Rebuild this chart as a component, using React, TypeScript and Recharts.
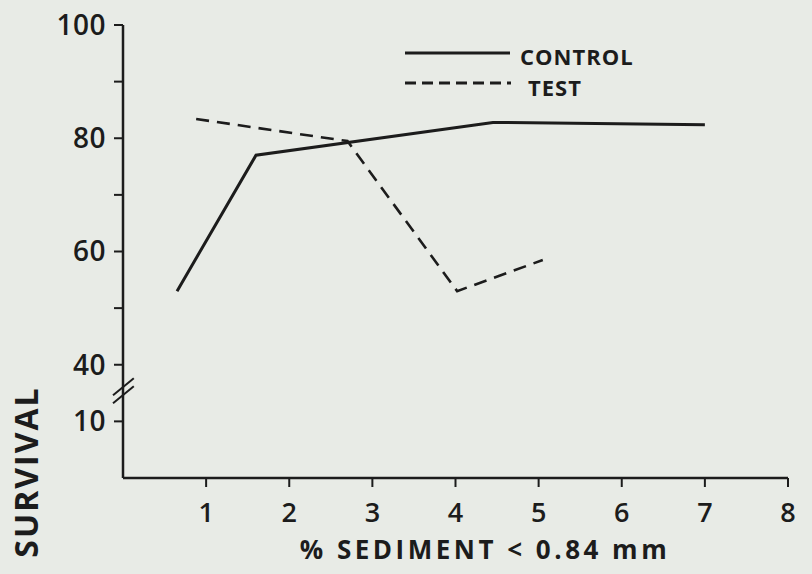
import { Line, LineChart, ReferenceLine, XAxis, YAxis } from "recharts";

// values
const controlX = [0.65, 1.6, 4.45, 7.0];
const controlY = [53, 77, 82.8, 82.4];
const testX = [0.88, 2.7, 4.02, 5.05];
const testY = [83.4, 79.5, 53, 58.5];

const xTicks = [1, 2, 3, 4, 5, 6, 7, 8];
// real survival values shown on the broken y axis
const yTicks = [10, 40, 50, 60, 70, 80, 90, 100];
const yLabelled = [10, 40, 60, 80, 100];

const INK = "#1c1c1c";
const PAPER = "#e8ebe6";
const FONT = "'Open Sans', sans-serif";

// axis is broken between ~15 and 40: squeeze the gap out
const toAxis = (v: number) => (v >= 40 ? v - 20 : v);
const fromAxis = (t: number) => (t >= 20 ? t + 20 : t);

const controlData = controlX.map((x, i) => ({ x, y: controlY[i] }));
const testData = testX.map((x, i) => ({ x, y: testY[i] }));

export default function App() {
  return (
    <div
      style={{
        position: "fixed",
        left: 0,
        top: 0,
        width: 812,
        height: 574,
        background: PAPER,
      }}
    >
      <LineChart
        width={812}
        height={574}
        margin={{ top: 25, right: 24, bottom: 56, left: 63 }}
      >
        <XAxis
          type="number"
          dataKey="x"
          domain={[0, 8]}
          ticks={xTicks}
          allowDuplicatedCategory={false}
          axisLine={{ stroke: INK, strokeWidth: 2.5 }}
          tickLine={{ stroke: INK, strokeWidth: 2 }}
          tickSize={9}
          tickMargin={16}
          height={40}
          tick={{ fill: INK, fontFamily: FONT, fontSize: 27, fontWeight: 600 }}
        />
        <YAxis
          type="number"
          domain={[0, 80]}
          ticks={yTicks.map(toAxis)}
          tickFormatter={(t: number) => {
            const v = fromAxis(t);
            return yLabelled.includes(v) ? String(v) : "";
          }}
          axisLine={{ stroke: INK, strokeWidth: 2.5 }}
          tickLine={{ stroke: INK, strokeWidth: 2 }}
          tickSize={9}
          tickMargin={8}
          width={60}
          tick={{ fill: INK, fontFamily: FONT, fontSize: 28, fontWeight: 600, letterSpacing: 0.5 }}
        />
        <ReferenceLine
          segment={[{ x: -0.12, y: 13.2 }, { x: 0.13, y: 16.2 }]}
          stroke={INK}
          strokeWidth={2}
          ifOverflow="visible"
        />
        <ReferenceLine
          segment={[{ x: -0.12, y: 14.6 }, { x: 0.13, y: 17.6 }]}
          stroke={INK}
          strokeWidth={2}
          ifOverflow="visible"
        />
        <Line
          data={controlData}
          dataKey={(d: { y: number }) => toAxis(d.y)}
          name="CONTROL"
          type="linear"
          stroke={INK}
          strokeWidth={3}
          dot={false}
          isAnimationActive={false}
        />
        <Line
          data={testData}
          dataKey={(d: { y: number }) => toAxis(d.y)}
          name="TEST"
          type="linear"
          stroke={INK}
          strokeWidth={2.6}
          strokeDasharray="13 8"
          dot={false}
          isAnimationActive={false}
        />
      </LineChart>
      <svg
        width={812}
        height={574}
        style={{ position: "absolute", left: 0, top: 0, pointerEvents: "none" }}
      >
        {/* legend */}
        <line x1={405} y1={53} x2={510} y2={53} stroke={INK} strokeWidth={3} />
        <text x={520} y={65} fontFamily={FONT} fontWeight={700} fontSize={22} letterSpacing={1} fill={INK}>
          CONTROL
        </text>
        <line x1={405} y1={83} x2={511} y2={83} stroke={INK} strokeWidth={3} strokeDasharray="11 6" />
        <text x={528} y={96} fontFamily={FONT} fontWeight={700} fontSize={22} letterSpacing={1} fill={INK}>
          TEST
        </text>

        <text
          transform="translate(38,472) rotate(-90)"
          textAnchor="middle"
          fontFamily={FONT}
          fontWeight={700}
          fontSize={32}
          letterSpacing={2}
          fill={INK}
        >
          SURVIVAL
        </text>
        <text
          x={485}
          y={559}
          textAnchor="middle"
          fontFamily={FONT}
          fontWeight={700}
          fontSize={26}
          letterSpacing={3.5}
          fill={INK}
        >
          % SEDIMENT &lt; 0.84 mm
        </text>
      </svg>
    </div>
  );
}
